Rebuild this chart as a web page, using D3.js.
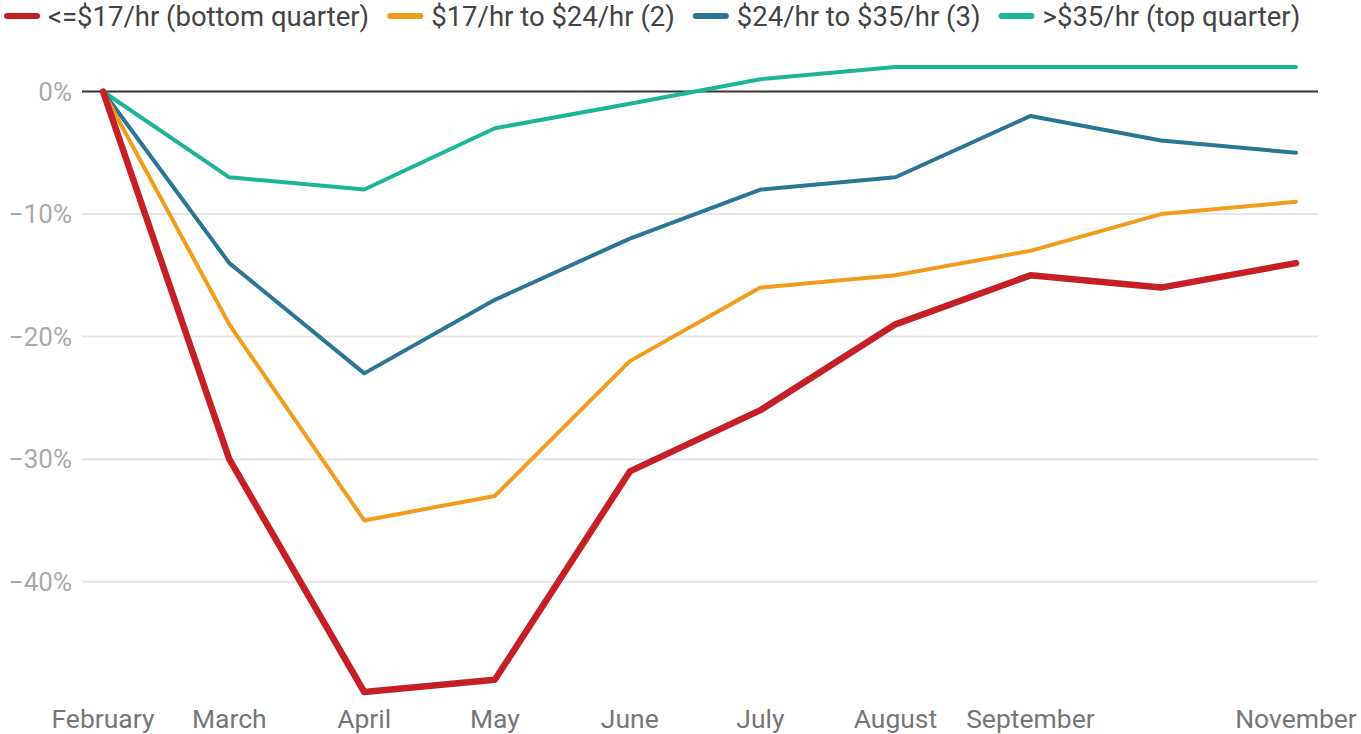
<!DOCTYPE html>
<html>
<head>
<meta charset="utf-8">
<script src="https://cdn.jsdelivr.net/npm/d3@7"></script>
<style>
  body { margin: 0; background: #fff; }
  svg { font-family: Roboto, sans-serif; }
  .legend text { font-size: 27.5px; fill: #444; }
  .y-axis text { font-size: 26px; fill: #aaa; }
  .x-axis text { font-size: 26.5px; fill: #777; }
</style>
</head>
<body>
<svg width="1361" height="734"></svg>
<script>
const months = ['2020-02-01', '2020-03-01', '2020-04-01', '2020-05-01', '2020-06-01',
  '2020-07-01', '2020-08-01', '2020-09-01', '2020-10-01', '2020-11-01'];
const monthLabels = ['February', 'March', 'April', 'May', 'June', 'July', 'August', 'September', '', 'November'];
const yTicks = [0, -10, -20, -30, -40];

const seriesNames = ['<=$17/hr (bottom quarter)', '$17/hr to $24/hr (2)', '$24/hr to $35/hr (3)', '>$35/hr (top quarter)'];
const bottomQuarter = [0, -30, -49, -48, -31, -26, -19, -15, -16, -14];
const second = [0, -19, -35, -33, -22, -16, -15, -13, -10, -9];
const third = [0, -14, -23, -17, -12, -8, -7, -2, -4, -5];
const topQuarter = [0, -7, -8, -3, -1, 1, 2, 2, 2, 2];
const colors = ['#c62026', '#f39c1b', '#2b7595', '#1db597'];
const widths = [6.5, 4, 4, 4];

const parse = d3.timeParse('%Y-%m-%d');
const dates = months.map(parse);
const series = [bottomQuarter, second, third, topQuarter].map((vals, i) => ({
  name: seriesNames[i], color: colors[i], width: widths[i],
  values: vals.map((v, j) => ({ date: dates[j], value: v }))
}));

const svg = d3.select('svg');
const gridLeft = 82, gridRight = 1318;

const xScale = d3.scaleTime()
  .domain([dates[0], dates[dates.length - 1]])
  .range([103, 1296]);
const yScale = d3.scaleLinear()
  .domain([-49, 2])
  .range([692, 67]);

// gridlines + y labels
const yAxisG = svg.append('g').attr('class', 'y-axis');
yAxisG.selectAll('line')
  .data(yTicks)
  .enter().append('line')
  .attr('x1', gridLeft).attr('x2', gridRight)
  .attr('y1', d => yScale(d)).attr('y2', d => yScale(d))
  .attr('stroke', d => d === 0 ? '#333' : '#e6e6e6')
  .attr('stroke-width', 2);
yAxisG.selectAll('text')
  .data(yTicks)
  .enter().append('text')
  .attr('x', 72)
  .attr('y', d => yScale(d))
  .attr('dy', '0.35em')
  .attr('text-anchor', 'end')
  .text(d => (d < 0 ? '\u2212' + Math.abs(d) : d) + '%');

// x labels
const xAxisG = svg.append('g').attr('class', 'x-axis');
xAxisG.selectAll('text')
  .data(dates.filter((d, i) => monthLabels[i]))
  .enter().append('text')
  .attr('x', d => xScale(d))
  .attr('y', 728)
  .attr('text-anchor', 'middle')
  .text(d => monthLabels[dates.indexOf(d)]);

const line = d3.line()
  .x(d => xScale(d.date))
  .y(d => yScale(d.value));

// draw top series first so red sits on top
svg.append('g').selectAll('path')
  .data(series.slice().reverse())
  .enter().append('path')
  .attr('d', d => line(d.values))
  .attr('fill', 'none')
  .attr('stroke', d => d.color)
  .attr('stroke-width', d => d.width)
  .attr('stroke-linejoin', 'round')
  .attr('stroke-linecap', 'round');

// legend
const legend = svg.append('g').attr('class', 'legend');
let lx = 4;
series.forEach(s => {
  const item = legend.append('g').attr('transform', `translate(${lx},16)`);
  item.append('line')
    .attr('x1', 3).attr('x2', 33)
    .attr('stroke', s.color)
    .attr('stroke-width', 6)
    .attr('stroke-linecap', 'round');
  const t = item.append('text')
    .attr('x', 44)
    .attr('dy', '0.35em')
    .text(s.name);
  lx += 44 + t.node().getComputedTextLength() + 18;
});
</script>
</body>
</html>
